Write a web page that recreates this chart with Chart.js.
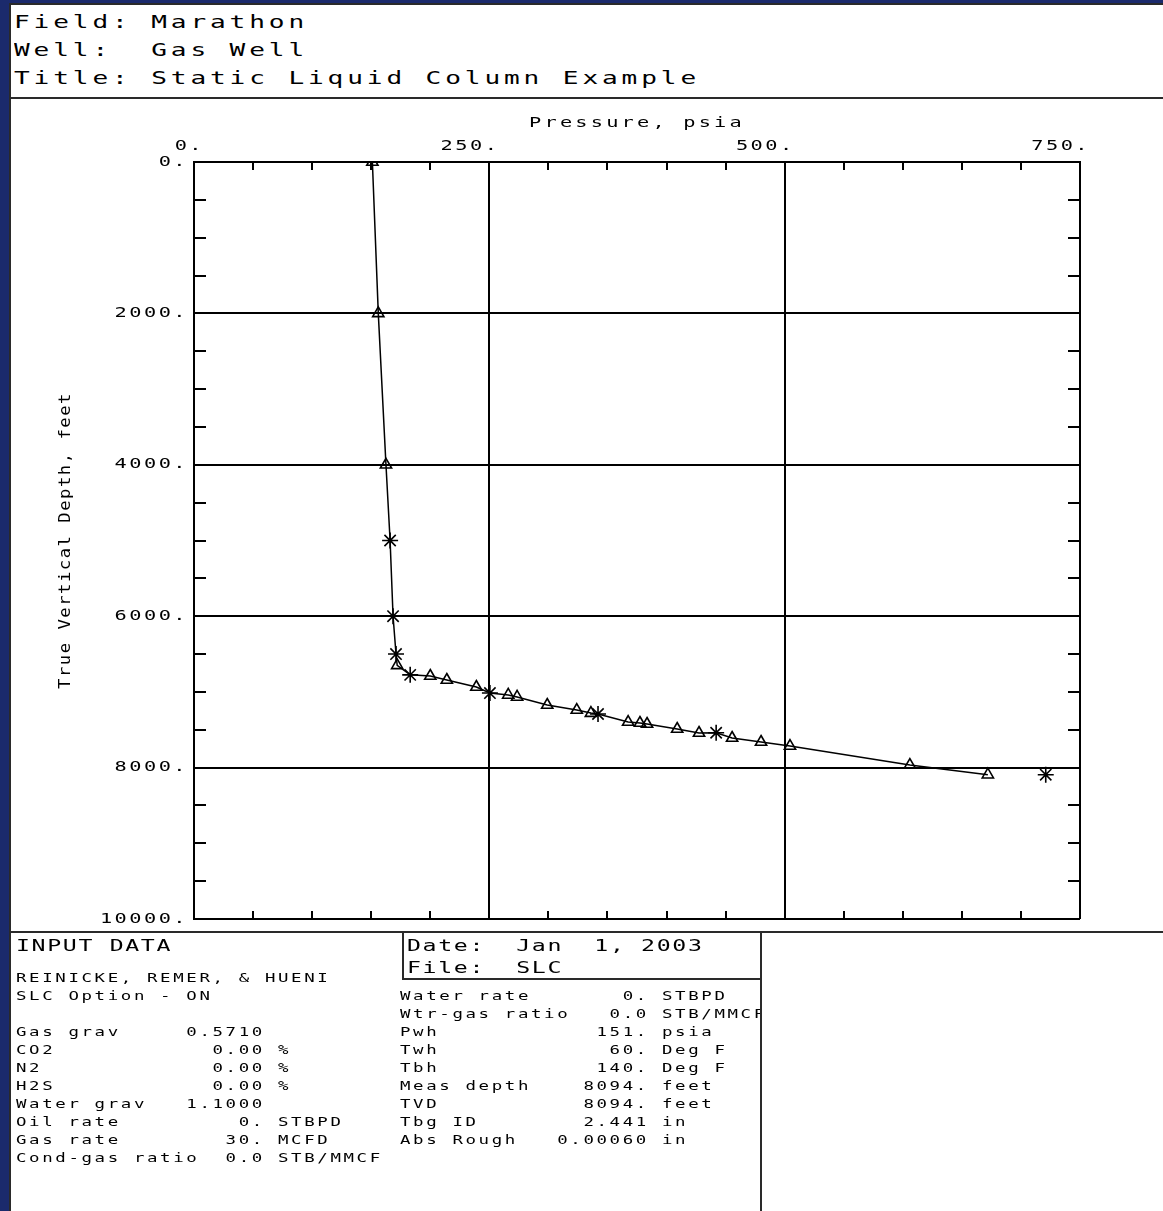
<!DOCTYPE html>
<html><head><meta charset="utf-8">
<script src="https://cdn.jsdelivr.net/npm/chart.js@4/dist/chart.umd.min.js"></script>
<style>
html,body{margin:0;padding:0;}
body{width:1163px;height:1211px;background:#1b2a6c;position:relative;overflow:hidden;font-family:"DejaVu Sans Mono",monospace;color:#000;}
#sheet{position:absolute;left:9px;top:3px;width:1154px;height:1208px;background:#fff;}
.ln{position:absolute;background:#2a2a2a;}
.t{position:absolute;white-space:pre;transform-origin:0 0;margin:0;}
.hdr{font-size:18px;line-height:28px;letter-spacing:2.68px;transform:scaleX(1.45);}
.big{font-size:16px;line-height:22px;letter-spacing:1.13px;transform:scaleX(1.45);}
.dat{font-size:12px;line-height:18px;letter-spacing:1.81px;transform:scaleX(1.45);}
#chartbox{position:absolute;left:10px;top:100px;width:1153px;height:845px;}
#clipR{position:absolute;left:398px;top:982px;width:362px;height:180px;overflow:hidden;}
</style></head>
<body>
<div id="sheet"></div>
<div class="ln" style="left:9px;top:3px;width:2px;height:1208px;"></div>
<div class="ln" style="left:9px;top:3px;width:1154px;height:2px;"></div>
<div class="ln" style="left:9px;top:97px;width:1154px;height:2px;"></div>
<div class="ln" style="left:9px;top:931px;width:1154px;height:2px;"></div>
<div class="ln" style="left:402px;top:931px;width:2px;height:48px;"></div>
<div class="ln" style="left:402px;top:978px;width:360px;height:2px;"></div>
<div class="ln" style="left:760px;top:931px;width:2px;height:280px;"></div>

<pre class="t hdr" style="left:14px;top:8px;">Field: Marathon
Well:  Gas Well
Title: Static Liquid Column Example</pre>

<div id="chartbox"><canvas id="c" width="1153" height="845"></canvas></div>

<pre class="t big" style="left:16px;top:935px;">INPUT DATA</pre>
<pre class="t big" style="left:407px;top:935px;">Date:  Jan  1, 2003
File:  SLC</pre>

<pre id="leftCol" class="t dat" style="left:16px;top:969px;"></pre>
<div id="clipR"><pre id="rightCol" class="t dat" style="left:2px;top:5px;"></pre></div>

<script>
// ---- data ----
const pressureTicks = [0, 250, 500, 750];
const depthTicks = [0, 2000, 4000, 6000, 8000, 10000];
const xTitle = 'Pressure, psia';
const yTitle = 'True Vertical Depth, feet';

// computed pressure traverse (line), marker type per point
const profPressure = [151, 156, 162.5, 166, 168.5, 171, 172, 183, 200, 214, 239, 250.5, 266, 273.5, 299, 324, 336, 342, 367.5, 377.5, 383.5, 409, 427.5, 442, 455.5, 480, 504.5, 606, 672];
const profDepth    = [0, 2000, 4000, 5000, 6000, 6500, 6650, 6775, 6790, 6843, 6935, 7015, 7040, 7067, 7173, 7240, 7280, 7292, 7398, 7411, 7424, 7490, 7543, 7540, 7609, 7662, 7715, 7966, 8094];
const profMarker   = ['tri','tri','tri','star','star','star','tri','star','tri','tri','tri','star','tri','tri','tri','tri','tri','star','tri','tri','tri','tri','tri','star','tri','tri','tri','tri','tri'];

// isolated point
const extraPressure = [721];
const extraDepth = [8094];

// input-data panel
const leftHead = ['REINICKE, REMER, & HUENI', 'SLC Option - ON', ''];
const leftLabels = ['Gas grav', 'CO2', 'N2', 'H2S', 'Water grav', 'Oil rate', 'Gas rate', 'Cond-gas ratio'];
const leftValues = ['0.5710', '0.00', '0.00', '0.00', '1.1000', '0.', '30.', '0.0'];
const leftUnits  = ['', '%', '%', '%', '', 'STBPD', 'MCFD', 'STB/MMCF'];
const rightLabels = ['Water rate', 'Wtr-gas ratio', 'Pwh', 'Twh', 'Tbh', 'Meas depth', 'TVD', 'Tbg ID', 'Abs Rough'];
const rightValues = ['0.', '0.0', '151.', '60.', '140.', '8094.', '8094.', '2.441', '0.00060'];
const rightUnits  = ['STBPD', 'STB/MMCF', 'psia', 'Deg F', 'Deg F', 'feet', 'feet', 'in', 'in'];

function row(l, v, u) { return (l.padEnd(19 - v.length) + v + (u ? ' ' + u : '')); }
document.getElementById('leftCol').textContent =
  leftHead.concat(leftLabels.map((l, i) => row(l, leftValues[i], leftUnits[i]))).join('\n');
document.getElementById('rightCol').textContent =
  rightLabels.map((l, i) => row(l, rightValues[i], rightUnits[i])).join('\n');

// ---- chart ----
Chart.defaults.font.family = '"DejaVu Sans Mono", monospace';
Chart.defaults.color = '#000';

const minorP = []; for (let v = 50; v < 750; v += 50) if (v % 250) minorP.push(v);
const minorD = []; for (let v = 500; v < 10000; v += 500) if (v % 2000) minorD.push(v);

let textSX = 1.45;
const origFill = CanvasRenderingContext2D.prototype.fillText;

const textPlugin = {
  id: 'plotterText',
  beforeDraw(chart) {
    const ctx = chart.ctx;
    if (!ctx._wide) {
      ctx.fillText = function (t, x, y, mw) {
        this.save(); this.translate(x, y); this.scale(textSX, 1);
        if (mw === undefined) origFill.call(this, t, 0, 0);
        else origFill.call(this, t, 0, 0, mw / textSX);
        this.restore();
      };
      ctx._wide = true;
    }
    const ys = chart.scales.y, xs = chart.scales.x;
    if (ys && !ys._patched) {
      const o = ys.drawTitle.bind(ys);
      ys.drawTitle = function () {
        const c = this.ctx, p = c.letterSpacing, s = textSX;
        c.letterSpacing = '1.3px'; textSX = 1.15; o(); textSX = s; c.letterSpacing = p;
      };
      ys._patched = true;
    }
    if (xs && !xs._patched) {
      const o = xs.drawTitle.bind(xs);
      xs.drawTitle = function () {
        const c = this.ctx, p = c.letterSpacing;
        c.letterSpacing = '2.2px'; o(); c.letterSpacing = p;
      };
      xs._patched = true;
    }
    ctx.letterSpacing = '1.7px';
  },
  beforeDatasetsDraw(chart) { chart.ctx.letterSpacing = '0px'; },
  afterDraw(chart) {
    const {ctx, chartArea: a, scales: {x, y}} = chart;
    ctx.save();
    ctx.strokeStyle = '#000'; ctx.lineWidth = 2;
    ctx.beginPath();
    for (const v of minorP) {
      const px = Math.round(x.getPixelForValue(v));
      ctx.moveTo(px, a.top); ctx.lineTo(px, a.top + 8);
      ctx.moveTo(px, a.bottom); ctx.lineTo(px, a.bottom - 8);
    }
    for (const v of minorD) {
      const py = Math.round(y.getPixelForValue(v));
      ctx.moveTo(a.left, py); ctx.lineTo(a.left + 12, py);
      ctx.moveTo(a.right, py); ctx.lineTo(a.right - 12, py);
    }
    ctx.stroke();
    ctx.restore();
  }
};

new Chart(document.getElementById('c'), {
  type: 'scatter',
  data: {
    datasets: [
      {
        data: profPressure.map((p, i) => ({x: p, y: profDepth[i]})),
        showLine: true,
        borderColor: '#000',
        borderWidth: 1.5,
        pointStyle: profMarker.map(m => m === 'tri' ? 'triangle' : 'star'),
        pointRadius: profMarker.map(m => m === 'tri' ? 6.5 : 8),
        pointBorderColor: '#000',
        pointBackgroundColor: 'rgba(0,0,0,0)',
        pointBorderWidth: 1.6,
        tension: 0
      },
      {
        data: extraPressure.map((p, i) => ({x: p, y: extraDepth[i]})),
        showLine: false,
        pointStyle: 'star',
        pointRadius: 8,
        pointBorderColor: '#000',
        pointBackgroundColor: 'rgba(0,0,0,0)',
        pointBorderWidth: 1.6
      }
    ]
  },
  options: {
    responsive: false,
    animation: false,
    events: [],
    layout: {padding: {left: 0, right: 83, top: 0, bottom: 26}},
    plugins: {legend: {display: false}, tooltip: {enabled: false}},
    scales: {
      x: {
        type: 'linear', position: 'top',
        min: pressureTicks[0], max: pressureTicks[pressureTicks.length - 1],
        afterBuildTicks: s => { s.ticks = pressureTicks.map(v => ({value: v})); },
        afterFit: s => { s.height = 62; },
        ticks: {
          callback: v => v + '.', font: {size: 14}, color: '#000',
          align: 'end', labelOffset: 10, padding: 7, autoSkip: false, maxRotation: 0
        },
        grid: {color: '#000', lineWidth: 2, drawTicks: false},
        border: {color: '#000', width: 2},
        title: {display: true, text: xTitle, font: {size: 14}, color: '#000', padding: {top: 15, bottom: 0}}
      },
      y: {
        type: 'linear', position: 'left', reverse: true,
        min: depthTicks[0], max: depthTicks[depthTicks.length - 1],
        afterBuildTicks: s => { s.ticks = depthTicks.map(v => ({value: v})); },
        afterFit: s => { s.width = 184; },
        ticks: {callback: v => v + '.', font: {size: 14}, color: '#000', padding: 6, autoSkip: false},
        grid: {color: '#000', lineWidth: 2, drawTicks: false},
        border: {color: '#000', width: 2},
        title: {display: true, text: yTitle, font: {size: 15}, color: '#000', padding: {top: 47, bottom: 0}}
      }
    }
  },
  plugins: [textPlugin]
});
</script>
</body></html>
